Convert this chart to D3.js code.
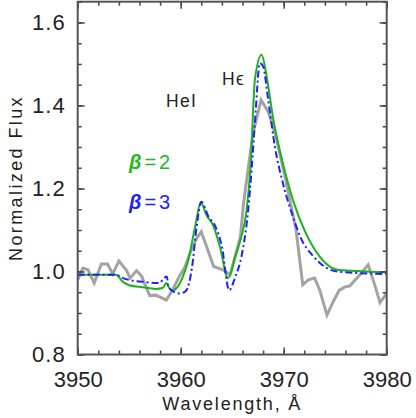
<!DOCTYPE html>
<html>
<head>
<meta charset="utf-8">
<script src="https://cdn.jsdelivr.net/npm/d3@7"></script>
<style>
  body { margin: 0; background: #fff; }
  text { font-family: "Liberation Sans", Arial, sans-serif; fill: #222; }
</style>
</head>
<body>
<div id="myPlot"></div>
<script>
// observed spectrum (gray)
var obsWave = [3950.0, 3950.5, 3951.0, 3951.6, 3952.3, 3952.9, 3953.4, 3954.0, 3954.7, 3955.1,
  3955.7, 3956.2, 3957.0, 3957.6, 3958.6, 3959.2, 3959.9, 3960.4, 3960.9, 3961.55, 3962.0,
  3963.2, 3964.1, 3964.8, 3965.8, 3966.1, 3967.0, 3967.8, 3968.5, 3969.2, 3970.2, 3971.2,
  3971.85, 3972.4, 3973.0, 3973.5, 3974.2, 3974.8, 3975.4, 3975.95, 3976.4, 3977.4, 3978.2,
  3978.9, 3979.35, 3980.0];
var obsFlux = [0.98, 1.008, 1.004, 0.972, 1.018, 1.018, 0.994, 1.025, 1.004, 0.984,
  1.002, 0.989, 0.942, 0.943, 0.931, 0.955, 0.99, 1.01, 1.044, 1.08, 1.096,
  1.012, 1.004, 0.992, 1.084, 1.164, 1.33, 1.413, 1.385, 1.33, 1.22, 1.10,
  0.968, 0.98, 0.984, 0.955, 0.895, 0.927, 0.955, 0.963, 0.965, 0.992, 1.016,
  0.963, 0.925, 0.947];

// model beta = 2 (green)
var b2Wave = [3950.0, 3953.7, 3954.4, 3955.0, 3956.3, 3957.6, 3958.25, 3958.6, 3958.9, 3959.2,
  3959.7, 3960.2, 3960.7, 3961.4, 3961.95, 3962.5, 3963.2, 3963.8, 3964.6, 3965.3, 3965.8,
  3966.4, 3966.8, 3967.2, 3967.85, 3968.35, 3969.0, 3970.0, 3970.9, 3972.1, 3973.5, 3975.1,
  3977.1, 3980.0];
var b2Flux = [0.992, 0.992, 0.975, 0.967, 0.962, 0.958, 0.96, 0.972, 0.96, 0.954,
  0.963, 0.987, 1.024, 1.108, 1.166, 1.136, 1.108, 1.06, 0.984, 1.036, 1.076,
  1.148, 1.26, 1.461, 1.522, 1.469, 1.365, 1.253, 1.172, 1.095, 1.036, 1.005,
  1.001, 0.998];

// model beta = 3 (blue)
var b3Wave = [3950.0, 3953.7, 3954.4, 3956.3, 3957.9, 3958.4, 3958.65, 3958.8, 3959.2, 3959.9,
  3960.5, 3961.1, 3961.55, 3962.0, 3962.7, 3963.3, 3964.0, 3964.7, 3965.3, 3965.9, 3966.55,
  3966.9, 3967.2, 3967.7, 3968.0, 3968.5, 3969.15, 3969.95, 3970.9, 3971.6, 3972.9, 3974.2,
  3975.5, 3980.0];
var b3Flux = [0.992, 0.992, 0.984, 0.975, 0.972, 0.984, 0.988, 0.965, 0.953, 0.947,
  0.953, 1.01, 1.108, 1.168, 1.132, 1.112, 1.06, 0.955, 0.987, 1.036, 1.148,
  1.25, 1.357, 1.502, 1.494, 1.413, 1.30, 1.21, 1.132, 1.084, 1.036, 1.008,
  0.999, 0.994];

var xTicks = [3950, 3960, 3970, 3980];
var yTicks = [0.8, 1.0, 1.2, 1.4, 1.6];

//----------------------------------------------------------------------------------------------------
var margin = { top: 1.7, right: 29.3, bottom: 63.5, left: 77.7 },
  width = 416 - margin.left - margin.right,
  height = 418 - margin.top - margin.bottom;

var svg = d3.select("#myPlot")
  .append("svg")
  .attr("width", 416)
  .attr("height", 418)
  .append("g")
  .attr("transform", "translate(" + margin.left + "," + margin.top + ")");

var x = d3.scaleLinear().domain([3950, 3980]).range([0, width]);
var y = d3.scaleLinear().domain([0.8, 1.65]).range([height, 0]);

function zip(a, b) {
  return a.map(function (d, i) { return [d, b[i]]; });
}

// clip to plot area
svg.append("clipPath").attr("id", "clip")
  .append("rect").attr("width", width).attr("height", height);

var plot = svg.append("g").attr("clip-path", "url(#clip)");

var lineLin = d3.line()
  .x(function (d) { return x(d[0]); })
  .y(function (d) { return y(d[1]); });
var lineSmooth = d3.line()
  .curve(d3.curveMonotoneX)
  .x(function (d) { return x(d[0]); })
  .y(function (d) { return y(d[1]); });

plot.append("path")
  .datum(zip(obsWave, obsFlux))
  .attr("fill", "none")
  .attr("stroke", "#a3a3a3")
  .attr("stroke-width", 3)
  .attr("d", lineLin);

plot.append("path")
  .datum(zip(b2Wave, b2Flux))
  .attr("fill", "none")
  .attr("stroke", "#1bb31b")
  .attr("stroke-width", 2)
  .attr("d", lineSmooth);

plot.append("path")
  .datum(zip(b3Wave, b3Flux))
  .attr("fill", "none")
  .attr("stroke", "#2020ff")
  .attr("stroke-width", 2)
  .attr("stroke-dasharray", "7,3,2,3")
  .attr("d", lineSmooth);

//----------------------------------------------------------------------------------------------------
// axes: ticks pointing inward on all four sides
var minorX = d3.range(3950, 3981, 2);
var minorY = d3.range(0.8, 1.651, 0.05);

function styleAxis(g) {
  g.select(".domain").remove();
  g.selectAll(".tick line").attr("stroke", "#444").attr("stroke-width", 1.5);
}

svg.append("g").attr("transform", "translate(0," + height + ")")
  .call(d3.axisBottom(x).tickValues(minorX).tickSize(-4).tickFormat(""))
  .call(styleAxis);
svg.append("g").attr("transform", "translate(0," + height + ")")
  .call(d3.axisBottom(x).tickValues(xTicks).tickSize(-7).tickPadding(17).tickFormat(d3.format("d")))
  .call(styleAxis)
  .selectAll("text").attr("font-size", 22).attr("fill", "#2a2a2a").attr("font-family", "Liberation Sans");
svg.append("g")
  .call(d3.axisTop(x).tickValues(minorX).tickSize(-4).tickFormat(""))
  .call(styleAxis);
svg.append("g")
  .call(d3.axisTop(x).tickValues(xTicks).tickSize(-7).tickFormat(""))
  .call(styleAxis);

svg.append("g")
  .call(d3.axisLeft(y).tickValues(minorY).tickSize(-4).tickFormat(""))
  .call(styleAxis);
svg.append("g")
  .call(d3.axisLeft(y).tickValues(yTicks).tickSize(-7).tickPadding(12).tickFormat(d3.format(".1f")))
  .call(styleAxis)
  .selectAll("text").attr("font-size", 22).attr("fill", "#2a2a2a").attr("font-family", "Liberation Sans")
  .attr("letter-spacing", 1);
svg.append("g").attr("transform", "translate(" + width + ",0)")
  .call(d3.axisRight(y).tickValues(minorY).tickSize(-4).tickFormat(""))
  .call(styleAxis);
svg.append("g").attr("transform", "translate(" + width + ",0)")
  .call(d3.axisRight(y).tickValues(yTicks).tickSize(-7).tickFormat(""))
  .call(styleAxis);

// frame
svg.append("rect")
  .attr("width", width).attr("height", height)
  .attr("fill", "none").attr("stroke", "#555").attr("stroke-width", 2);

// axis titles
svg.append("text")
  .attr("x", width / 2).attr("y", height + 56)
  .attr("text-anchor", "middle")
  .attr("font-size", 18).attr("letter-spacing", 1.8)
  .text("Wavelength, Å");

svg.append("text")
  .attr("transform", "translate(" + (22 - margin.left) + "," + (178 - margin.top) + ") rotate(-90)")
  .attr("text-anchor", "middle")
  .attr("font-size", 18).attr("letter-spacing", 2.4)
  .text("Normalized Flux");

// line labels
svg.append("text").attr("x", 166 - margin.left).attr("y", 107 - margin.top)
  .attr("font-size", 17.5).attr("letter-spacing", 1.3).text("HeI");
svg.append("text").attr("x", 222 - margin.left).attr("y", 85 - margin.top)
  .attr("font-size", 17.5).attr("letter-spacing", 1.3).text("Hϵ");

var betaLabels = [["2", "#22b822", 169], ["3", "#2020ff", 209]];
betaLabels.forEach(function (b) {
  var t = svg.append("text").attr("x", 129 - margin.left).attr("y", b[2] - margin.top)
    .attr("font-size", 20).style("fill", b[1]);
  t.append("tspan").attr("font-weight", "bold").attr("font-style", "italic").text("β");
  t.append("tspan").attr("dx", 3).text("=");
  t.append("tspan").attr("dx", 3).text(b[0]);
});
</script>
</body>
</html>
